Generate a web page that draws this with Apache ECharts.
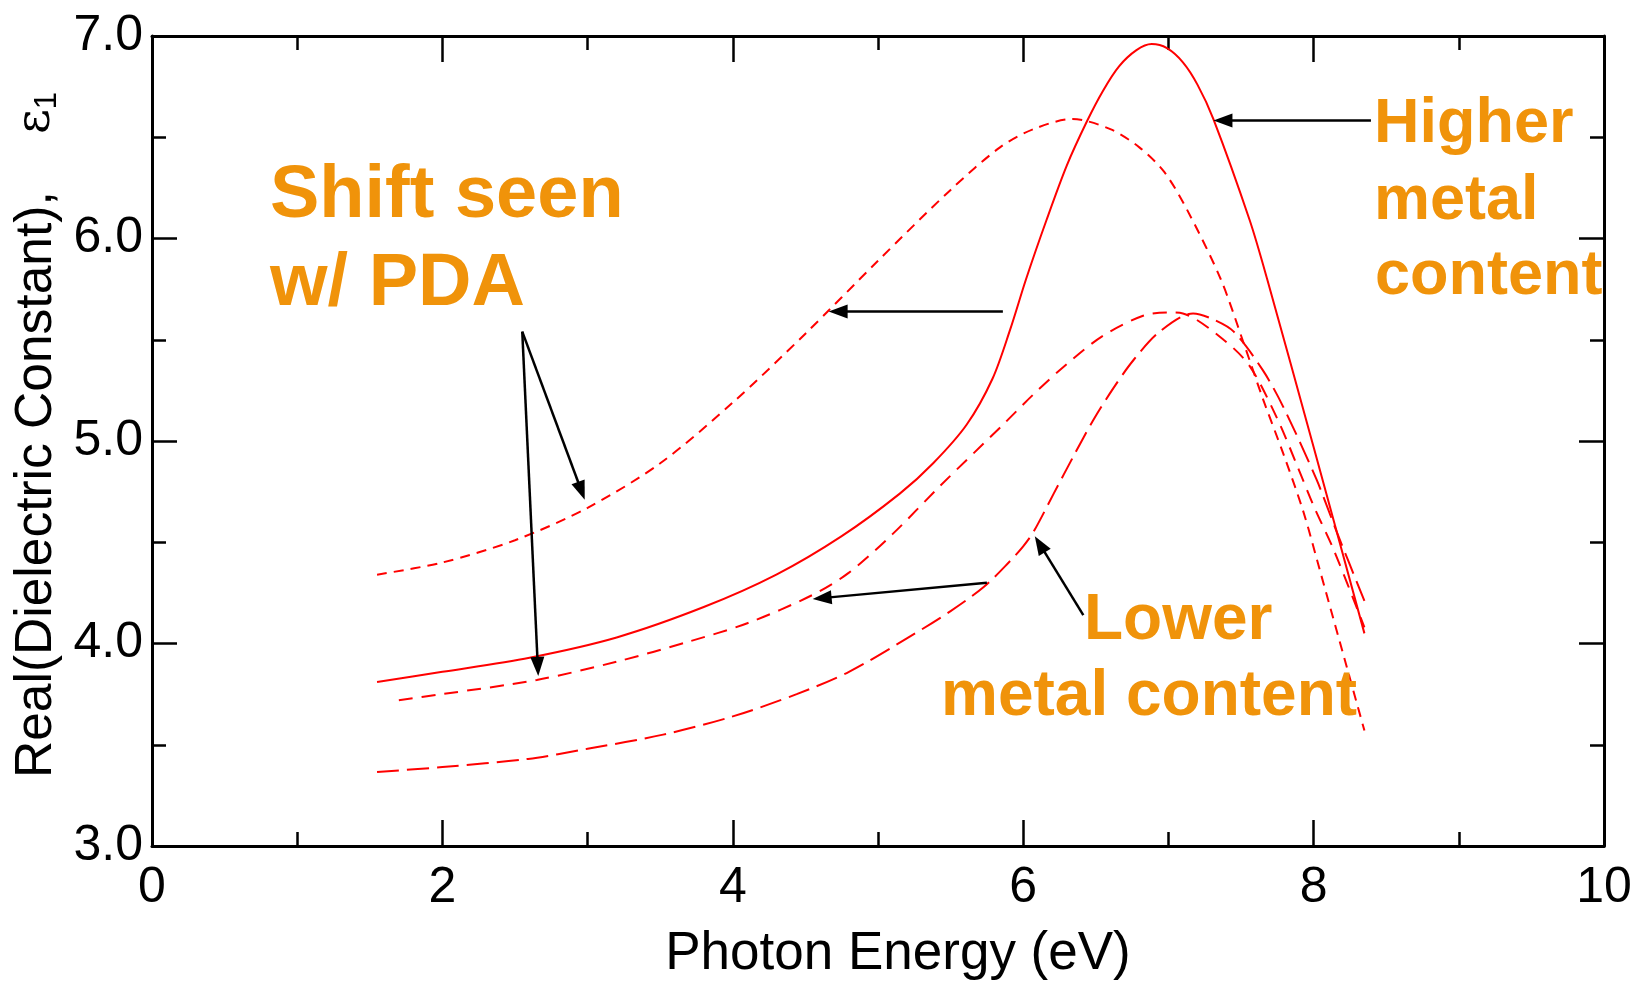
<!DOCTYPE html>
<html>
<head>
<meta charset="utf-8">
<script src="https://cdn.jsdelivr.net/npm/echarts@6/dist/echarts.min.js"></script>
<style>
html,body{margin:0;padding:0;background:#fff;}
#c{width:1638px;height:986px;}
</style>
</head>
<body>
<div id="c"></div>
<script>
// ---------------- data ----------------
const xTickLabels = ['0','2','4','6','8','10'];
const yTickLabels = ['3.0','4.0','5.0','6.0','7.0'];

// Higher metal content, as deposited (solid)
const higherX = [1.55,2.0,2.6,3.2,3.8,4.3,4.75,5.15,5.38,5.61,5.79,5.91,6.02,6.16,6.30,6.44,6.55,6.66,6.78,6.885,6.99,7.10,7.20,7.31,7.56,7.68,8.0,8.35];
const higherY = [3.81,3.86,3.93,4.03,4.18,4.34,4.53,4.74,4.89,5.08,5.31,5.55,5.80,6.09,6.36,6.58,6.73,6.85,6.93,6.96,6.94,6.87,6.76,6.59,6.09,5.80,4.97,4.05];

// Higher metal content, after PDA (short dash)
const higherPdaX = [1.55,2.0,2.5,3.0,3.5,4.0,4.5,5.0,5.5,5.84,6.07,6.34,6.60,6.80,6.97,7.13,7.36,7.52,7.65,7.79,7.93,8.04,8.35];
const higherPdaY = [4.34,4.40,4.51,4.67,4.89,5.19,5.53,5.89,6.24,6.45,6.54,6.59,6.54,6.45,6.33,6.14,5.80,5.48,5.21,4.94,4.65,4.37,3.57];

// Lower metal content, after PDA (medium dash)
const lowerPdaX = [1.70,2.0,2.65,3.2,3.7,4.1,4.55,4.8,5.1,5.43,5.86,6.07,6.30,6.55,6.83,7.0,7.10,7.38,7.56,7.75,7.88,8.0,8.14,8.35];
const lowerPdaY = [3.72,3.75,3.82,3.91,4.01,4.10,4.24,4.35,4.54,4.78,5.08,5.23,5.38,5.52,5.62,5.635,5.63,5.50,5.37,5.11,4.89,4.68,4.46,4.08];

// Lower metal content, as deposited (long dash)
const lowerX = [1.55,2.0,2.59,3.0,3.52,4.0,4.44,4.8,5.21,5.5,5.73,5.9,6.0,6.07,6.21,6.35,6.48,6.62,6.76,6.94,7.17,7.31,7.45,7.65,7.79,8.02,8.16,8.35];
const lowerY = [3.365,3.39,3.43,3.48,3.55,3.64,3.75,3.86,4.03,4.16,4.28,4.40,4.48,4.55,4.74,4.93,5.10,5.26,5.40,5.54,5.63,5.60,5.54,5.35,5.17,4.81,4.55,4.21];

// annotation arrows: [tailX, tailY, headX, headY] in data units
const arrows = [
  [8.395, 6.583, 7.31, 6.583],
  [5.86, 5.64, 4.66, 5.64],
  [5.75, 4.30, 4.55, 4.22],
  [6.414, 4.14, 6.08, 4.53],
  [2.55, 5.54, 2.98, 4.71],
  [2.55, 5.54, 2.66, 3.84]
];

// annotation texts
const notes = [
  {text:'Shift seen', x:270, y:197, size:74},
  {text:'w/ PDA', x:270, y:285, size:74},
  {text:'Higher', x:1374, y:125, size:63},
  {text:'metal', x:1374, y:202, size:63},
  {text:'content', x:1375, y:277, size:63},
  {text:'Lower', x:1084, y:621, size:64},
  {text:'metal content', x:941, y:697, size:64}
];

// ---------------- chart ----------------
const FONT = 'Liberation Sans';
const RED = '#FF0000';
const ORANGE = '#F0930A';
const zip = (xs, ys) => xs.map((x, i) => [x, ys[i]]);

const chart = echarts.init(document.getElementById('c'), null, {renderer: 'canvas'});

function xAxisDef(pos, showLabel) {
  return {
    type: 'value', min: 0, max: 10, interval: 2, position: pos,
    axisLine: {show: true, onZero: false, lineStyle: {color: '#000', width: 3}},
    axisTick: {show: true, inside: true, length: 26, lineStyle: {color: '#000', width: 2.5}},
    minorTick: {show: true, splitNumber: 2, length: 14, lineStyle: {color: '#000', width: 2.5}},
    splitLine: {show: false}, minorSplitLine: {show: false},
    axisLabel: {show: showLabel, margin: 17, color: '#000', fontSize: 50, fontFamily: FONT,
      formatter: v => xTickLabels[Math.round(v / 2)]}
  };
}
function yAxisDef(pos, showLabel) {
  return {
    type: 'value', min: 3, max: 7, interval: 1, position: pos,
    axisLine: {show: true, onZero: false, lineStyle: {color: '#000', width: 3}},
    axisTick: {show: true, inside: true, length: 25, lineStyle: {color: '#000', width: 2.5}},
    minorTick: {show: true, splitNumber: 2, length: 14, lineStyle: {color: '#000', width: 2.5}},
    splitLine: {show: false}, minorSplitLine: {show: false},
    axisLabel: {show: showLabel, margin: 9, color: '#000', fontSize: 50, fontFamily: FONT,
      padding: [0, 0, 18, 0],
      formatter: v => yTickLabels[Math.round(v - 3)]}
  };
}

const xMain = xAxisDef('bottom', true);
xMain.name = 'Photon Energy (eV)';
xMain.nameLocation = 'middle';
xMain.nameGap = 82;
xMain.nameTextStyle = {color: '#000', fontSize: 53, fontFamily: FONT, padding: [0, 0, 0, 40]};

const yMain = yAxisDef('left', true);
yMain.name = 'Real(Dielectric Constant),    {e|ε}{s|1}';
yMain.nameLocation = 'middle';
yMain.nameGap = 88;
yMain.nameTextStyle = {
  color: '#000', fontSize: 51.5, fontFamily: FONT, padding: [0, 0, 0, 12],
  rich: {
    e: {fontSize: 48, fontFamily: 'DejaVu Serif', color: '#000'},
    s: {fontSize: 31, fontFamily: FONT, color: '#000', verticalAlign: 'bottom'}
  }
};

function lineSeries(name, xs, ys, dash) {
  return {
    name, type: 'line', xAxisIndex: 0, yAxisIndex: 0,
    data: zip(xs, ys), smooth: 0.3, showSymbol: false, symbol: 'none',
    lineStyle: {color: RED, width: 2, type: dash},
    silent: true
  };
}

const option = {
  animation: false,
  backgroundColor: '#fff',
  grid: {left: 152, right: 34, top: 36, bottom: 138, containLabel: false},
  xAxis: [xMain, xAxisDef('top', false)],
  yAxis: [yMain, yAxisDef('right', false)],
  series: [
    lineSeries('Higher metal content', higherX, higherY, 'solid'),
    lineSeries('Higher metal content, PDA', higherPdaX, higherPdaY, [10, 7]),
    lineSeries('Lower metal content, PDA', lowerPdaX, lowerPdaY, [14, 9]),
    lineSeries('Lower metal content', lowerX, lowerY, [22, 8])
  ]
};
chart.setOption(option);

// arrows and texts as graphic annotations
const g = [];
arrows.forEach(a => {
  const p0 = chart.convertToPixel({xAxisIndex: 0, yAxisIndex: 0}, [a[0], a[1]]);
  const p1 = chart.convertToPixel({xAxisIndex: 0, yAxisIndex: 0}, [a[2], a[3]]);
  const dx = p1[0] - p0[0], dy = p1[1] - p0[1];
  const L = Math.sqrt(dx * dx + dy * dy);
  const ux = dx / L, uy = dy / L;
  const headL = 19, headW = 7;
  const bx = p1[0] - ux * headL, by = p1[1] - uy * headL;
  g.push({type: 'line', silent: true, z: 50,
    shape: {x1: p0[0], y1: p0[1], x2: bx + ux * 2, y2: by + uy * 2},
    style: {stroke: '#000', lineWidth: 2.5}});
  g.push({type: 'polygon', silent: true, z: 50,
    shape: {points: [[p1[0], p1[1]], [bx - uy * headW, by + ux * headW], [bx + uy * headW, by - ux * headW]]},
    style: {fill: '#000'}});
});
notes.forEach(n => {
  g.push({type: 'text', silent: true, z: 60, x: n.x, y: n.y,
    style: {text: n.text, fill: ORANGE, font: 'bold ' + n.size + 'px "' + FONT + '"',
      align: 'left', verticalAlign: 'middle'}});
});
chart.setOption({graphic: g});
</script>
</body>
</html>
